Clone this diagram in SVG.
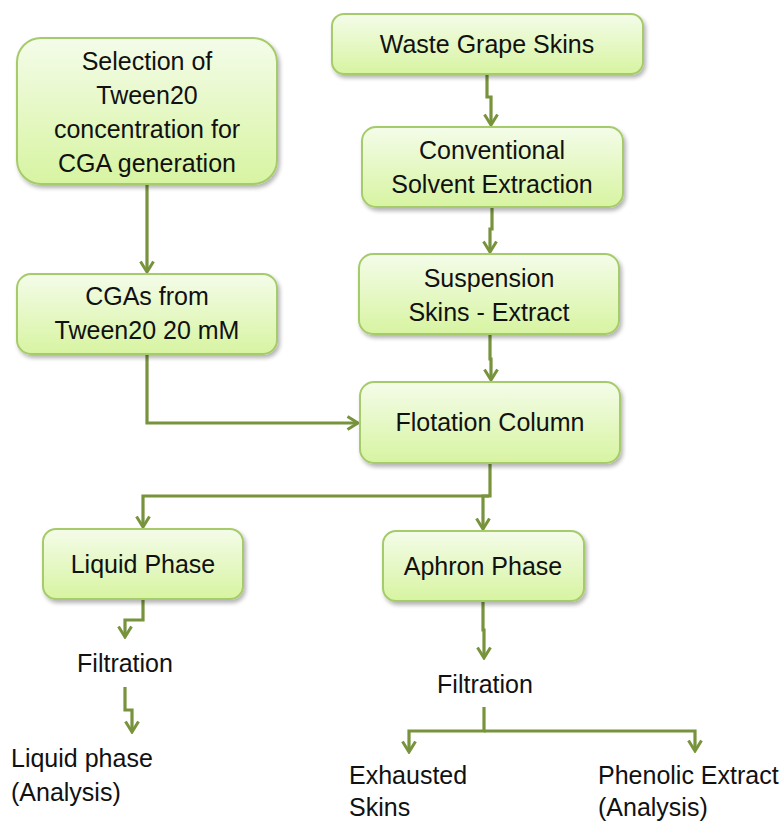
<svg xmlns="http://www.w3.org/2000/svg" width="782" height="823" viewBox="0 0 782 823">
  <style>
    .box { fill: url(#boxFill); stroke: #a6cb6b; stroke-width: 2; filter: url(#shade); }
    .lbl { font-family: "Liberation Sans", Arial, sans-serif; font-size: 25px; fill: #111; }
    .mid { text-anchor: middle; }
    .wire { fill: none; stroke: #77933c; stroke-width: 3.2; stroke-linejoin: miter; }
    .arr { marker-end: url(#head); }
  </style>
  <defs>
    <linearGradient id="boxFill" x1="0" y1="0" x2="0" y2="1">
      <stop offset="0" stop-color="#f4fce9"/>
      <stop offset="1" stop-color="#d7f4a1"/>
    </linearGradient>
    <filter id="shade" x="-10%" y="-10%" width="125%" height="135%">
      <feGaussianBlur in="SourceAlpha" stdDeviation="2"/>
      <feOffset dx="2" dy="3" result="b"/>
      <feComponentTransfer><feFuncA type="linear" slope="0.3"/></feComponentTransfer>
      <feMerge><feMergeNode/><feMergeNode in="SourceGraphic"/></feMerge>
    </filter>
    <marker id="head" viewBox="0 0 14 16" refX="12" refY="8" markerWidth="14" markerHeight="16" markerUnits="userSpaceOnUse" orient="auto">
      <path d="M1.5,1.5 L12,8 L1.5,14.5" fill="none" stroke="#77933c" stroke-width="3"/>
    </marker>
  </defs>

  <!-- connectors -->
  <g id="connectors">
    <path class="wire arr" d="M147,185 V272"/>
    <path class="wire arr" d="M487,74 V97 H491 V125"/>
    <path class="wire arr" d="M492,207 V229 H490 V252"/>
    <path class="wire arr" d="M490,334 V359 H491 V380"/>
    <path class="wire arr" d="M147,354 V423 H358"/>
    <path class="wire arr" d="M490,463 V496 H143 V527"/>
    <path class="wire arr" d="M489,496 H483 V529"/>
    <path class="wire arr" d="M143,599 V620 H125 V637"/>
    <path class="wire arr" d="M125,687 V710 H132 V732"/>
    <path class="wire arr" d="M483,601 V630 H484 V658"/>
    <path class="wire arr" d="M484,707 V731 H409 V752"/>
    <path class="wire arr" d="M484,731 H695 V751"/>
  </g>

  <!-- process boxes -->
  <g id="selection">
    <rect class="box" x="17" y="38" width="260" height="146" rx="24"/>
    <text class="lbl mid" x="147" y="70">Selection of</text>
    <text class="lbl mid" x="147" y="104">Tween20</text>
    <text class="lbl mid" x="147" y="138">concentration for</text>
    <text class="lbl mid" x="147" y="172">CGA generation</text>
  </g>
  <g id="cgas">
    <rect class="box" x="17" y="274" width="260" height="80" rx="14"/>
    <text class="lbl mid" x="147" y="305">CGAs from</text>
    <text class="lbl mid" x="147" y="339">Tween20 20 mM</text>
  </g>
  <g id="waste">
    <rect class="box" x="332" y="14" width="311" height="60" rx="12"/>
    <text class="lbl mid" x="487" y="53">Waste Grape Skins</text>
  </g>
  <g id="conventional">
    <rect class="box" x="362" y="127" width="261" height="80" rx="14"/>
    <text class="lbl mid" x="492" y="159">Conventional</text>
    <text class="lbl mid" x="492" y="193">Solvent Extraction</text>
  </g>
  <g id="suspension">
    <rect class="box" x="359" y="254" width="260" height="80" rx="14"/>
    <text class="lbl mid" x="489" y="287">Suspension</text>
    <text class="lbl mid" x="489" y="321">Skins - Extract</text>
  </g>
  <g id="flotation">
    <rect class="box" x="360" y="382" width="260" height="81" rx="14"/>
    <text class="lbl mid" x="490" y="431">Flotation Column</text>
  </g>
  <g id="liquid">
    <rect class="box" x="43" y="529" width="200" height="70" rx="13"/>
    <text class="lbl mid" x="143" y="573">Liquid Phase</text>
  </g>
  <g id="aphron">
    <rect class="box" x="383" y="531" width="201" height="70" rx="13"/>
    <text class="lbl mid" x="483" y="575">Aphron Phase</text>
  </g>

  <!-- plain labels -->
  <g id="filtration-left">
    <text class="lbl mid" x="125" y="672">Filtration</text>
  </g>
  <g id="filtration-right">
    <text class="lbl mid" x="485" y="693">Filtration</text>
  </g>
  <g id="liquid-analysis">
    <text class="lbl" x="11" y="767">Liquid phase</text>
    <text class="lbl" x="11" y="801">(Analysis)</text>
  </g>
  <g id="exhausted">
    <text class="lbl" x="349" y="784">Exhausted</text>
    <text class="lbl" x="349" y="816">Skins</text>
  </g>
  <g id="phenolic">
    <text class="lbl" x="598" y="784">Phenolic Extract</text>
    <text class="lbl" x="598" y="816">(Analysis)</text>
  </g>
</svg>
